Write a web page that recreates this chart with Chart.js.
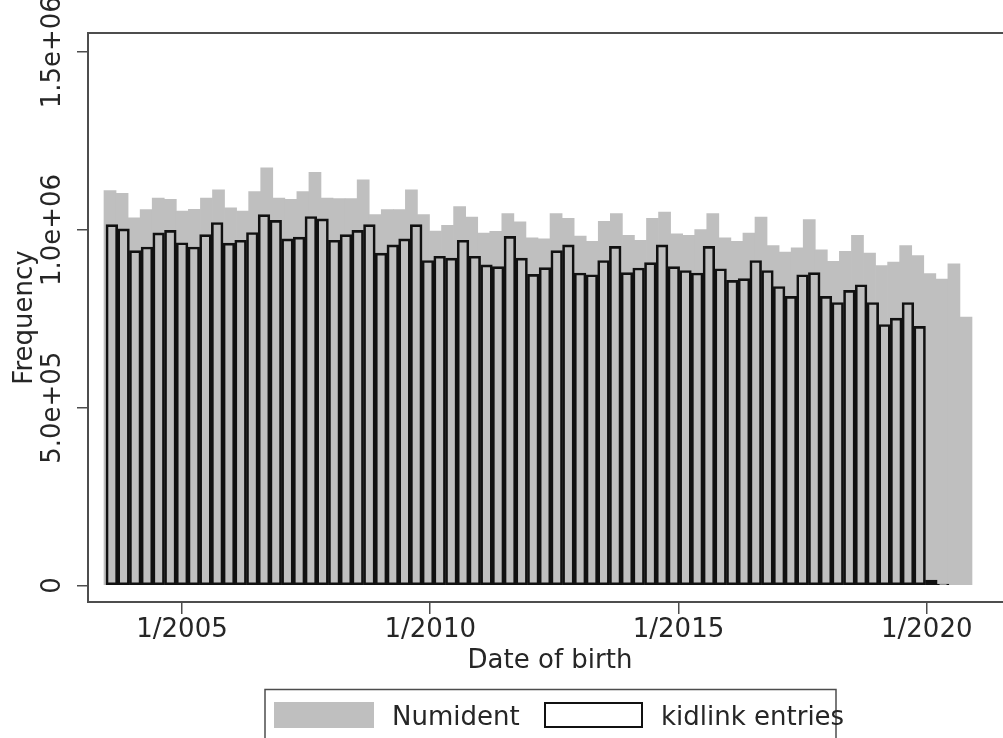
<!DOCTYPE html>
<html>
<head>
<meta charset="utf-8">
<title>Date of birth: Numident vs kidlink entries</title>
<script src="https://cdn.jsdelivr.net/npm/chart.js@4.4.1/dist/chart.umd.min.js"></script>
<style>
    html, body { margin: 0; padding: 0; background: #fff; overflow: hidden; }
    #wrap { position: relative; width: 1020px; height: 738px; }
</style>
</head>
<body>
<div id="wrap"><canvas id="dob-hist"></canvas></div>
<script>
// Bins (in fractional years) and frequencies
const numidentStart = 2003.429;
const numidentWidth = 0.24281;
const numidentValues = [
    1111000, 1103000, 1034000, 1057000, 1090000, 1086000, 1053000, 1058000, 1090000, 1113000,
    1062000, 1053000, 1108000, 1175000, 1090000, 1086000, 1108000, 1162000, 1090000, 1088000,
    1088000, 1141000, 1043000, 1057000, 1057000, 1113000, 1043000, 997000, 1013000, 1066000,
    1036000, 991000, 996000, 1046000, 1023000, 978000, 975000, 1046000, 1033000, 983000,
    968000, 1024000, 1046000, 985000, 971000, 1033000, 1050000, 989000, 985000, 1001000,
    1046000, 978000, 968000, 991000, 1036000, 956000, 938000, 950000, 1029000, 944000,
    912000, 940000, 985000, 935000, 900000, 910000, 956000, 928000, 877000, 862000,
    905000, 755000
];

const kidlinkStart = 2003.469;
const kidlinkWidth = 0.23579;
const kidlinkValues = [
    1015000, 1003000, 942000, 952000, 992000, 999000, 964000, 952000, 987000, 1021000,
    963000, 971000, 993000, 1043000, 1027000, 975000, 980000, 1038000, 1031000, 971000,
    987000, 999000, 1015000, 935000, 958000, 975000, 1015000, 914000, 926000, 921000,
    971000, 926000, 902000, 897000, 982000, 921000, 875000, 894000, 942000, 958000,
    879000, 874000, 914000, 954000, 880000, 893000, 908000, 958000, 897000, 886000,
    879000, 954000, 891000, 858000, 863000, 914000, 886000, 841000, 813000, 874000,
    880000, 813000, 796000, 830000, 846000, 796000, 734000, 752000, 796000, 729000,
    15000, 4000
];

const xTickYears = [2005, 2010, 2015, 2020];
const xTickLabels = ["1/2005", "1/2010", "1/2015", "1/2020"];
const yTickValues = [0, 500000, 1000000, 1500000];
const yTickLabels = ["0", "5.0e+05", "1.0e+06", "1.5e+06"];
const seriesLabels = ["Numident", "kidlink entries"];

const xMin = 2003.107, xMax = 2021.717;
const yMin = -46400, yMax = 1554000;

window.addEventListener("DOMContentLoaded", () => {

    const axisColor = "#4d4d4d";
    const textColor = "#262626";
    const barGray = "#bfbfbf";
    const outline = "#111111";

    Chart.defaults.font.family = "'DejaVu Sans', sans-serif";
    Chart.defaults.font.size = 26;
    Chart.defaults.color = textColor;

    // plot region (the original is cropped on the right)
    const canvasWidth = 1020, canvasHeight = 738;
    const plotLeft = 88, plotTop = 33, plotBottom = 602, plotRight = 1012;
    const xAxisHeight = 74.4;

    const numidentBins = numidentValues.map((v, i) => ({ x: numidentStart + (i + 0.5) * numidentWidth, y: v }));
    const kidlinkBins = kidlinkValues.map((v, i) => ({ x: kidlinkStart + (i + 0.5) * kidlinkWidth, y: v }));

    // Stata-style legend box under the axis title
    const stataLegend = {
        id: "stataLegend",
        afterDraw(chart) {
            const ctx = chart.ctx;
            const ds = chart.data.datasets;
            ctx.save();
            ctx.strokeStyle = axisColor;
            ctx.lineWidth = 1.5;
            ctx.strokeRect(265, 689.5, 571, 70);

            ctx.fillStyle = ds[1].backgroundColor;
            ctx.fillRect(274, 702, 100, 26);

            ctx.strokeStyle = ds[0].borderColor;
            ctx.lineWidth = 2;
            ctx.strokeRect(545, 703, 97, 24);

            ctx.fillStyle = textColor;
            ctx.font = "26px 'DejaVu Sans', sans-serif";
            ctx.textBaseline = "alphabetic";
            ctx.textAlign = "left";
            ctx.fillText(ds[1].label, 392, 725);
            ctx.fillText(ds[0].label, 661, 725);
            ctx.restore();
        }
    };

    const ctx = document.getElementById("dob-hist").getContext("2d");
    new Chart(ctx, {
        type: "bar",
        data: {
            datasets: [
                {
                    label: seriesLabels[1],
                    data: kidlinkBins,
                    xAxisID: "x2",
                    backgroundColor: "rgba(0,0,0,0)",
                    borderColor: outline,
                    borderWidth: 2,
                    borderSkipped: false,
                    barPercentage: 1,
                    categoryPercentage: 1,
                    grouped: false,
                    order: 0
                },
                {
                    label: seriesLabels[0],
                    data: numidentBins,
                    xAxisID: "x",
                    backgroundColor: barGray,
                    borderWidth: 0,
                    barPercentage: 1,
                    categoryPercentage: 1,
                    grouped: false,
                    order: 1
                }
            ]
        },
        options: {
            responsive: true,
            maintainAspectRatio: false,
            animation: false,
            layout: {
                padding: {
                    left: 0,
                    top: plotTop,
                    right: canvasWidth - plotRight,
                    bottom: canvasHeight - plotBottom - xAxisHeight
                }
            },
            plugins: {
                legend: { display: false },
                tooltip: { enabled: false }
            },
            scales: {
                x: {
                    type: "linear",
                    position: "bottom",
                    min: xMin,
                    max: xMax,
                    offset: false,
                    grid: {
                        display: true,
                        drawOnChartArea: false,
                        drawTicks: true,
                        tickLength: 12,
                        color: axisColor,
                        lineWidth: 1.5,
                        offset: false
                    },
                    border: { display: true, color: axisColor, width: 2 },
                    ticks: {
                        autoSkip: false,
                        minRotation: 0,
                        maxRotation: 0,
                        padding: 1,
                        callback: (v, i) => xTickLabels[i]
                    },
                    afterBuildTicks: (scale) => {
                        scale.ticks = xTickYears.map(v => ({ value: v }));
                    },
                    afterFit: (scale) => {
                        scale.height = xAxisHeight;
                    },
                    title: {
                        display: true,
                        text: "Date of birth",
                        padding: { top: 0, bottom: 0 }
                    }
                },
                x2: {
                    type: "linear",
                    display: false,
                    min: xMin,
                    max: xMax,
                    offset: false,
                    grid: { offset: false }
                },
                xTop: {
                    type: "linear",
                    position: "top",
                    min: xMin,
                    max: xMax,
                    offset: false,
                    ticks: { display: false },
                    grid: { display: false, drawTicks: false },
                    border: { display: true, color: axisColor, width: 2 },
                    afterFit: (scale) => {
                        scale.height = 0;
                    }
                },
                y: {
                    type: "linear",
                    position: "left",
                    min: yMin,
                    max: yMax,
                    beginAtZero: false,
                    grid: {
                        display: true,
                        drawOnChartArea: false,
                        drawTicks: true,
                        tickLength: 11,
                        color: axisColor,
                        lineWidth: 1.5
                    },
                    border: { display: true, color: axisColor, width: 2 },
                    ticks: {
                        autoSkip: false,
                        minRotation: 90,
                        maxRotation: 90,
                        crossAlign: "center",
                        padding: -32,          // pulls the rotated labels back next to the ticks
                        callback: (v, i) => yTickLabels[i]
                    },
                    afterBuildTicks: (scale) => {
                        scale.ticks = yTickValues.map(v => ({ value: v }));
                    },
                    afterFit: (scale) => {
                        scale.width = plotLeft;
                    },
                    title: {
                        display: true,
                        text: "Frequency",
                        padding: { top: 9.4, bottom: 0 }
                    }
                }
            }
        },
        plugins: [stataLegend]
    });
});
</script>
</body>
</html>
